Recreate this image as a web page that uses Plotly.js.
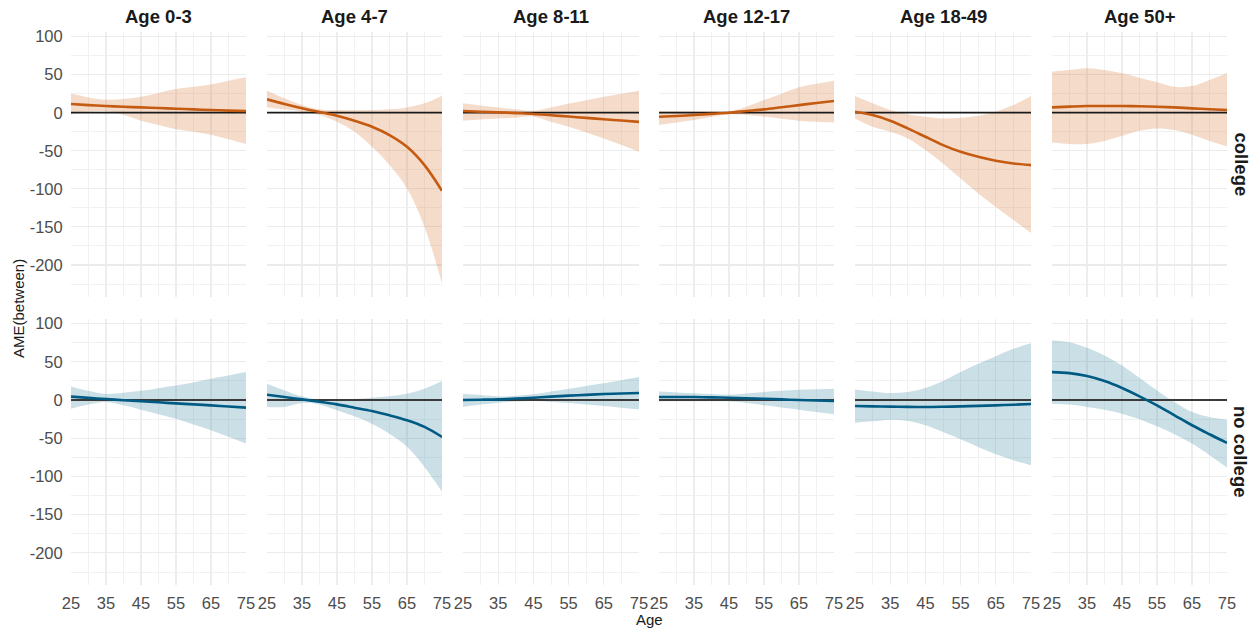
<!DOCTYPE html>
<html>
<head>
<meta charset="utf-8">
<script src="https://cdn.plot.ly/plotly-3.0.1.min.js"></script>
<style>html,body{margin:0;padding:0;background:#fff;}#chart{width:1257px;height:630px;}</style>
</head>
<body>
<div id="chart"></div>
<script>
// ---------- DATA ----------
const ages = [25, 30, 35, 40, 45, 50, 55, 60, 65, 70, 75];
const groups = ["Age 0-3", "Age 4-7", "Age 8-11", "Age 12-17", "Age 18-49", "Age 50+"];
const rows = ["college", "no college"];

// college row: estimate, upper, lower
const collegeEst = [
  [11.4, 10, 8.8, 7.8, 7, 6.2, 5.3, 4.4, 3.5, 2.8, 2.2],
  [17.6, 11.4, 5.8, 0.9, -3.9, -10.5, -18.4, -29.3, -44.7, -68.8, -102.6],
  [2.2, 1.3, 0.5, -0.5, -1.6, -3.3, -5, -6.8, -8.6, -10.3, -12],
  [-5.3, -4.3, -3, -1.5, 0, 2.2, 4.4, 7.2, 10, 12.8, 15.4],
  [1.3, -3, -10.5, -20.6, -31.6, -42.5, -51.3, -57.9, -63, -66.7, -68.8],
  [7, 8, 8.8, 8.8, 8.8, 8.5, 7.9, 7, 5.7, 4.6, 3.5]
];
const collegeUpper = [
  [25.5, 20, 17, 18, 21, 26, 31, 34, 37, 42, 46.5],
  [29, 19, 10, 4.5, 3.5, 3.5, 3.5, 4.4, 7, 12.3, 22.4],
  [12.3, 9.5, 7, 4.5, 2.5, 7, 12, 16.5, 21, 25, 29],
  [2, 1.8, 1.5, 1.5, 2, 8, 16.7, 25, 33.3, 38, 42],
  [21.9, 12.3, 3.5, -2, -5.3, -7.5, -6.6, -3.9, 1.3, 10, 21.9],
  [53.9, 56, 58.3, 56, 51.7, 46, 40, 34, 35, 43, 51.7]
];
const collegeLower = [
  [-2, 1.5, 2, -3, -10.5, -16, -21.6, -25, -29, -35, -41],
  [7, 4.4, 1.3, -3, -11.8, -25, -44.7, -68.8, -99.5, -150, -224.5],
  [-10.5, -9, -7.5, -6.5, -5, -12, -18.4, -26, -33.7, -42.5, -51.3],
  [-16, -13, -9.6, -5.5, -2, -3, -5, -8, -10.5, -12, -13],
  [-7.5, -18.4, -25, -33.8, -49, -66.7, -86.4, -106, -123.7, -141, -157.9],
  [-39, -41, -41, -37, -30.5, -23.7, -20.6, -22.8, -29, -37, -43.9]
];

// no college row: estimate, upper, lower
const noCollegeEst = [
  [4.4, 2.8, 1.3, -0.2, -1.7, -3, -4.4, -5.7, -7, -8.5, -10],
  [7, 3.9, 0.9, -2.2, -5.7, -10, -14.4, -20, -26.5, -35.2, -48.3],
  [0, 0.4, 0.9, 1.9, 3, 4.4, 5.7, 6.8, 7.8, 8.5, 9.1],
  [3.9, 3.9, 3.9, 3.5, 3, 2.4, 1.7, 0.9, 0, -0.6, -1.3],
  [-7.8, -8.3, -8.7, -9, -9.1, -8.8, -8.3, -7.7, -7, -6.1, -5.2],
  [36.5, 35.2, 31.3, 24.8, 15.7, 4.8, -7, -20, -33, -44.8, -56.1]
];
const noCollegeUpper = [
  [17.8, 12, 8, 9.5, 12, 15.5, 19, 23, 27.8, 32, 36.5],
  [21.3, 12.6, 4.8, 0.4, 0.4, 1.3, 3, 4.8, 8.3, 14.8, 24.8],
  [8.3, 6.5, 4.8, 5.5, 7.4, 11, 14.8, 18.5, 22, 26, 30],
  [11.3, 10, 9, 8, 7, 8.5, 10.4, 12, 13.5, 14.2, 14.8],
  [13.9, 11.3, 9.1, 10.4, 15.7, 24.8, 36.5, 47.4, 57.4, 67, 74.4],
  [77.9, 75.7, 68.3, 58.3, 45.3, 29.2, 12.6, -2.6, -15.7, -22.2, -25.7]
];
const noCollegeLower = [
  [-11.3, -6, -2.6, -7, -12.6, -18.5, -24.4, -32, -39.6, -48, -57],
  [-9, -9, -3.9, -5.7, -13.5, -21.3, -31, -44, -61, -87.5, -120],
  [-9, -6, -3.5, -2, -1.3, -2.5, -3.9, -5.8, -7.8, -10, -12.2],
  [-1.7, -1.7, -1.7, -1.7, -1.7, -4, -7, -9.8, -12.6, -15.6, -18.7],
  [-29.6, -27.8, -25.7, -27.4, -33, -41.8, -51.3, -61.4, -71, -78.8, -85.3],
  [-4.8, -6, -9.1, -12.6, -17.8, -25.2, -34.4, -44.8, -57, -72.2, -88.3]
];

const xTickVals = [25, 35, 45, 55, 65, 75];
const xMinorVals = [30, 40, 50, 60, 70];
const yTickVals = [-200, -150, -100, -50, 0, 50, 100];
const yMinorVals = [-225, -175, -125, -75, -25, 25, 75];

// ---------- STYLE ----------
const W = 1257, H = 630;
const M = {l: 71, r: 30, t: 32, b: 45};
const panelPx = [[71, 246], [267, 442], [463, 639], [659, 834], [855, 1031], [1052, 1227]];
const plotW = W - M.l - M.r, plotH = H - M.t - M.b;
const rowDomains = [[(585 - 297) / plotH, 1], [0, (585 - 319) / plotH]];
const rowStyle = [
  {line: "#c55a11", fill: "rgba(218,126,60,0.27)", zero: "#1a1a1a"},
  {line: "#005b84", fill: "rgba(64,137,168,0.27)", zero: "#3a3a3a"}
];
const FONT = "Arial, 'Liberation Sans', Helvetica, sans-serif";

const data = [
  {est: collegeEst, up: collegeUpper, lo: collegeLower},
  {est: noCollegeEst, up: noCollegeUpper, lo: noCollegeLower}
];

const traces = [];
const layout = {
  width: W, height: H,
  margin: M,
  paper_bgcolor: "#fff", plot_bgcolor: "rgba(0,0,0,0)",
  showlegend: false,
  font: {family: FONT, color: "#4d4d4d"},
  annotations: [],
  hovermode: false
};

for (let r = 0; r < 2; r++) {
  for (let c = 0; c < 6; c++) {
    const idx = r * 6 + c + 1;
    const xa = "x" + (idx === 1 ? "" : idx);
    const ya = "y" + (idx === 1 ? "" : idx);
    const st = rowStyle[r];
    traces.push({x: ages, y: data[r].lo[c], xaxis: xa, yaxis: ya, type: "scatter", mode: "lines",
      line: {width: 0, shape: "spline", smoothing: 1}, hoverinfo: "skip"});
    traces.push({x: ages, y: data[r].up[c], xaxis: xa, yaxis: ya, type: "scatter", mode: "lines",
      line: {width: 0, shape: "spline", smoothing: 1}, fill: "tonexty", fillcolor: st.fill, hoverinfo: "skip"});
    traces.push({x: [ages[0], ages[ages.length - 1]], y: [0, 0], xaxis: xa, yaxis: ya, type: "scatter", mode: "lines",
      line: {width: 1.8, color: st.zero}, hoverinfo: "skip"});
    traces.push({x: ages, y: data[r].est[c], xaxis: xa, yaxis: ya, type: "scatter", mode: "lines",
      line: {width: 2.6, color: st.line, shape: "spline", smoothing: 1}, hoverinfo: "skip"});

    const xd = [(panelPx[c][0] - M.l) / plotW, (panelPx[c][1] - M.l) / plotW];
    layout["xaxis" + (idx === 1 ? "" : idx)] = {
      domain: xd, anchor: ya, range: [25, 75],
      tickvals: xTickVals, ticktext: xTickVals.map(String),
      showticklabels: r === 1, ticks: "outside", ticklen: 3, tickcolor: "rgba(0,0,0,0)",
      tickfont: {size: 16.5, color: "#4d4d4d", family: FONT},
      showgrid: true, gridcolor: "#ededed", gridwidth: 1.1,
      minor: {tickvals: xMinorVals, showgrid: true, gridcolor: "#f1f1f1", gridwidth: 1},
      zeroline: false, showline: false, fixedrange: true
    };
    layout["yaxis" + (idx === 1 ? "" : idx)] = {
      domain: rowDomains[r], anchor: xa, range: [-242, 106],
      tickvals: yTickVals, ticktext: yTickVals.map(String),
      showticklabels: c === 0, ticks: "outside", ticklen: 4, tickcolor: "rgba(0,0,0,0)",
      tickfont: {size: 16.5, color: "#4d4d4d", family: FONT},
      showgrid: true, gridcolor: "#ebebeb", gridwidth: 1.1,
      minor: {tickvals: yMinorVals, showgrid: true, gridcolor: "#f1f1f1", gridwidth: 1},
      zeroline: false, showline: false, fixedrange: true
    };

    if (r === 0) {
      layout.annotations.push({text: "<b>" + groups[c] + "</b>", xref: "paper", yref: "paper",
        x: (xd[0] + xd[1]) / 2, y: 1, xanchor: "center", yanchor: "middle", yshift: 16,
        showarrow: false, font: {size: 18.5, color: "#1a1a1a", family: FONT}});
    }
  }
  layout.annotations.push({text: "<b>" + rows[r] + "</b>", xref: "paper", yref: "paper",
    x: 1, y: (rowDomains[r][0] + rowDomains[r][1]) / 2, xanchor: "center", yanchor: "middle", xshift: 14,
    textangle: 90, showarrow: false, font: {size: 18.5, color: "#1a1a1a", family: FONT}});
}

layout.annotations.push({text: "AME(between)", xref: "paper", yref: "paper",
  x: (18 - M.l) / plotW, y: (585 - 309) / plotH, xanchor: "center", yanchor: "middle",
  textangle: -90, showarrow: false, font: {size: 15, color: "#1a1a1a", family: FONT}});
layout.annotations.push({text: "Age", xref: "paper", yref: "paper",
  x: (649 - M.l) / plotW, y: (585 - 619) / plotH, xanchor: "center", yanchor: "middle",
  showarrow: false, font: {size: 15, color: "#1a1a1a", family: FONT}});

Plotly.newPlot("chart", traces, layout, {staticPlot: true, displayModeBar: false});
</script>
</body>
</html>
